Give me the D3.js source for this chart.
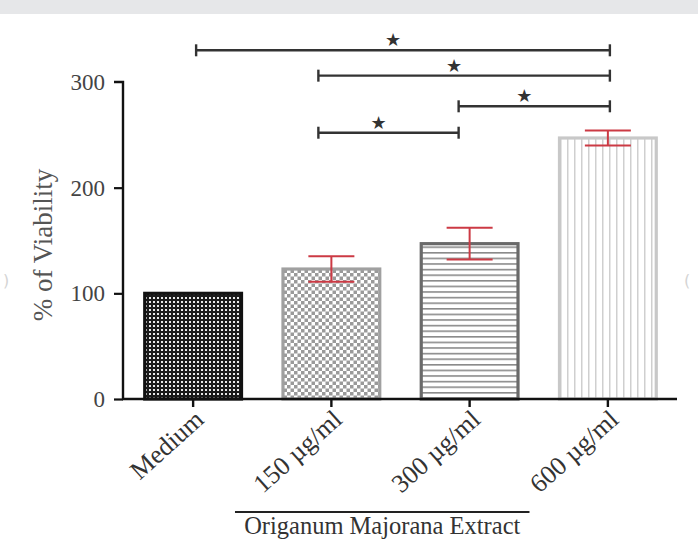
<!DOCTYPE html>
<html><head><meta charset="utf-8">
<script src="https://cdn.jsdelivr.net/npm/d3@7"></script>
<style>body{margin:0;background:#fff}svg{display:block}</style>
</head><body>
<svg id="c" width="698" height="548"></svg>
<script>
const categories = ["Medium", "150 µg/ml", "300 µg/ml", "600 µg/ml"];
const values = [100, 123, 147, 247];
const errors = [0, 12, 15, 7];
const yTicks = [0, 100, 200, 300];
// significance comparisons: [from index, to index, level (% viability)]
const compFrom = [0, 1, 2, 1];
const compTo = [3, 3, 3, 2];
const compLevel = [330, 306, 277, 252];
const yTitle = "% of Viability";
const groupTitle = "Origanum Majorana Extract";

const svg = d3.select("#c");
const serif = "'Liberation Serif','Times New Roman',serif";

svg.append("rect").attr("x",0).attr("y",0).attr("width",698).attr("height",14).attr("fill","#e6e7e9");

const x = d3.scaleBand().domain(categories).range([124, 677]).paddingInner(0.3).paddingOuter(0.15);
const y = d3.scaleLinear().domain([0, 300]).range([399, 82]);

// patterns
const defs = svg.append("defs");
const p0 = defs.append("pattern").attr("id","p0").attr("patternUnits","userSpaceOnUse").attr("width",4).attr("height",4);
p0.append("rect").attr("width",4).attr("height",4).attr("fill","#1a1a1a");
p0.append("rect").attr("x",1).attr("y",1).attr("width",2).attr("height",2).attr("fill","#e8e8e8");
const p1 = defs.append("pattern").attr("id","p1").attr("patternUnits","userSpaceOnUse").attr("width",7).attr("height",7);
p1.append("rect").attr("width",7).attr("height",7).attr("fill","#fff");
p1.append("rect").attr("width",3.5).attr("height",3.5).attr("fill","#9a9a9a");
p1.append("rect").attr("x",3.5).attr("y",3.5).attr("width",3.5).attr("height",3.5).attr("fill","#9a9a9a");
const p2 = defs.append("pattern").attr("id","p2").attr("patternUnits","userSpaceOnUse").attr("width",6).attr("height",5.6);
p2.append("rect").attr("width",6).attr("height",5.6).attr("fill","#fff");
p2.append("rect").attr("y",0).attr("width",6).attr("height",1.6).attr("fill","#8a8a8a");
const p3 = defs.append("pattern").attr("id","p3").attr("patternUnits","userSpaceOnUse").attr("width",7).attr("height",6);
p3.append("rect").attr("width",7).attr("height",6).attr("fill","#fff");
p3.append("rect").attr("x",0).attr("width",1.5).attr("height",6).attr("fill","#cfcfcf");

const fills = ["url(#p0)","url(#p1)","url(#p2)","url(#p3)"];
const strokes = ["#111","#a0a0a0","#6a6a6a","#c8c8c8"];

svg.append("g").selectAll("rect").data(categories).join("rect")
  .attr("x", d => x(d)).attr("width", x.bandwidth())
  .attr("y", (d,i) => y(values[i])).attr("height", (d,i) => y(0) - y(values[i]))
  .attr("fill", (d,i) => fills[i]).attr("stroke", (d,i) => strokes[i]).attr("stroke-width", 3.2);

// error bars
const eb = svg.append("g").attr("stroke","#cc3a44").attr("stroke-width",2).attr("fill","none");
categories.forEach((c,i) => {
  if (!errors[i]) return;
  const cx = x(c) + x.bandwidth()/2, hw = 23;
  eb.append("line").attr("x1",cx).attr("x2",cx).attr("y1",y(values[i]+errors[i])).attr("y2",y(values[i]-errors[i]));
  eb.append("line").attr("x1",cx-hw).attr("x2",cx+hw).attr("y1",y(values[i]+errors[i])).attr("y2",y(values[i]+errors[i]));
  eb.append("line").attr("x1",cx-hw).attr("x2",cx+hw).attr("y1",y(values[i]-errors[i])).attr("y2",y(values[i]-errors[i]));
});

// axes
const yAxis = svg.append("g").attr("transform","translate(123,0)")
  .call(d3.axisLeft(y).tickValues(yTicks).tickSize(9).tickPadding(9).tickFormat(d3.format("d")));
yAxis.select(".domain").attr("d", `M-9,${y(300)}H0V${y(0)}`).attr("stroke","#111").attr("stroke-width",2.4);
yAxis.selectAll(".tick line").attr("stroke","#111").attr("stroke-width",2.2);
yAxis.selectAll(".tick text").attr("font-family",serif).attr("font-size",23).attr("fill","#444");
yAxis.selectAll(".tick").filter(d => d === 300).select("line").remove();

const xAxis = svg.append("g").attr("transform",`translate(0,${y(0)})`)
  .call(d3.axisBottom(x).tickSize(8).tickPadding(4));
xAxis.select(".domain").attr("d", `M122,0H677`).attr("stroke","#111").attr("stroke-width",2.4);
xAxis.selectAll(".tick line").attr("stroke","#111").attr("stroke-width",2.4);
xAxis.selectAll(".tick text")
  .attr("font-family",serif).attr("font-size",26).attr("fill","#333")
  .attr("text-anchor","end").attr("dy","0.35em")
  .attr("transform","translate(-2,7) rotate(-42)");

// y title
svg.append("text").attr("transform","translate(52,245) rotate(-90)")
  .attr("text-anchor","middle").attr("font-family",serif).attr("font-size",27).attr("fill","#555")
  .text(yTitle);

// group line + title
const gx1 = x(categories[1]) - 48, gx2 = x(categories[3]) - 30;
svg.append("line").attr("x1",gx1).attr("x2",gx2).attr("y1",512).attr("y2",512).attr("stroke","#222").attr("stroke-width",2);
svg.append("text").attr("x",(gx1+gx2)/2).attr("y",534).attr("text-anchor","middle")
  .attr("font-family",serif).attr("font-size",24.5).attr("fill","#333").text(groupTitle);

// significance brackets
const anchorShift = [3, -13, -11, 2];
const anchor = i => x(categories[i]) + x.bandwidth()/2 + anchorShift[i];
const br = svg.append("g").attr("stroke","#333").attr("stroke-width",2.4);
compFrom.forEach((f,k) => {
  const x1 = anchor(f), x2 = anchor(compTo[k]), yy = y(compLevel[k]);
  br.append("line").attr("x1",x1).attr("x2",x2).attr("y1",yy).attr("y2",yy);
  br.append("line").attr("x1",x1).attr("x2",x1).attr("y1",yy-6).attr("y2",yy+6);
  br.append("line").attr("x1",x2).attr("x2",x2).attr("y1",yy-6).attr("y2",yy+6);
  svg.append("text").attr("x",(x1+x2)/2 - 10).attr("y",yy-4).attr("text-anchor","middle")
    .attr("font-family","'DejaVu Sans',sans-serif").attr("font-size",18).attr("fill","#333").text("★");
});

// faint page artifacts
svg.append("text").attr("x",3).attr("y",286).attr("font-family","'DejaVu Sans'").attr("font-size",16).attr("fill","#d4d4d4").text(")");
svg.append("text").attr("x",684).attr("y",286).attr("font-family","'DejaVu Sans'").attr("font-size",16).attr("fill","#d4d4d4").text("(");
</script>
</body></html>
